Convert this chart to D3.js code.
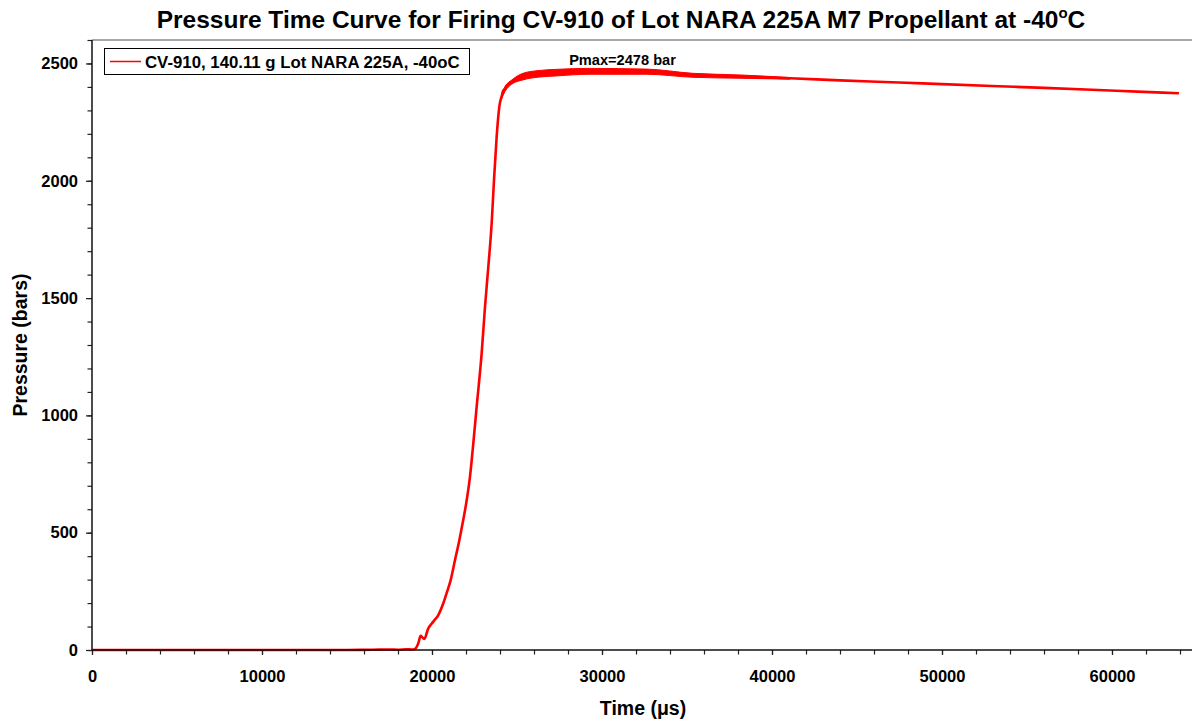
<!DOCTYPE html>
<html>
<head>
<meta charset="utf-8">
<script src="https://cdn.jsdelivr.net/npm/d3@7"></script>
<style>
html,body{margin:0;padding:0;background:#fff;}
svg{display:block;font-family:"Liberation Sans",Arial,sans-serif;}
</style>
</head>
<body>
<svg id="chart" width="1192" height="724"></svg>
<script>
// ---- data ----
const timeUs = [0, 5000, 10000, 15000, 16500, 17500, 18000, 18500, 18800, 19000, 19200, 19330, 19550, 19770, 20078, 20372, 20666, 20860, 21098, 21353, 21600, 21800, 22000, 22235, 22430, 22627, 22922, 23118, 23314, 23510, 23647, 23804, 23961, 24098, 24196, 24290, 24392, 24784, 25350, 25765, 26500, 27340, 28300, 29290, 31000, 32630, 34000, 35350, 36800, 38120, 41060, 44000, 47470, 50000, 52940, 56000, 58820, 61500, 63940];
const pressureBar = [0, 0, 0, 0, 1, 2, 1, 3, 2, 5, 30, 60, 47, 90, 121, 149, 199, 242, 298, 384, 465, 540, 620, 739, 881, 1037, 1265, 1463, 1634, 1819, 2003, 2188, 2316, 2360, 2385, 2390, 2405, 2425, 2444, 2450, 2456, 2461, 2464, 2466, 2466, 2465, 2459, 2450, 2447, 2444, 2437, 2428, 2419, 2412, 2404, 2396, 2388, 2380, 2373];

// ripple band (oscillation envelope)
const rippleTime  = [24098, 24290, 24700, 25350, 26300, 27340, 29290, 32630, 35350, 38120, 41060];
const rippleUpper = [2372, 2401, 2430, 2458, 2470, 2475, 2479, 2476, 2458, 2451, 2440];
const rippleLower = [2350, 2380, 2412, 2430, 2442, 2447, 2454, 2454, 2441, 2437, 2433];

const xTickValues = [0, 10000, 20000, 30000, 40000, 50000, 60000];
const yTickValues = [0, 500, 1000, 1500, 2000, 2500];

const titleMain = "Pressure Time Curve for Firing CV-910 of Lot NARA 225A M7 Propellant at -40";
const titleSup = "o";
const titleEnd = "C";
const legendLabel = "CV-910, 140.11 g Lot NARA 225A, -40oC";
const annotation = "Pmax=2478 bar";
const annotationTime = 31500;
const annotationP = 2478;

// ---- drawing ----
const svg = d3.select("#chart");
const L = 92, R = 1192, T = 40, B = 650;

const x = d3.scaleLinear().domain([0, 64706]).range([L, R]);
const y = d3.scaleLinear().domain([0, 2600]).range([B, T]);

const red = "#ff0000";
const FONT = "Liberation Sans, Arial, sans-serif";

// top frame line
svg.append("line").attr("x1", L).attr("x2", R).attr("y1", T).attr("y2", T)
  .attr("stroke", "#8a8a8a").attr("stroke-width", 1.5);

// ripple band
const band = d3.area()
  .x((d, i) => x(rippleTime[i]))
  .y0((d, i) => y(rippleLower[i]))
  .y1((d, i) => y(rippleUpper[i]))
  .curve(d3.curveMonotoneX);
svg.append("path").datum(rippleTime).attr("d", band)
  .attr("fill", red).attr("stroke", red).attr("stroke-width", 1);

// main curve
const line = d3.line()
  .x((d, i) => x(timeUs[i]))
  .y((d, i) => y(pressureBar[i]))
  .curve(d3.curveMonotoneX);
svg.append("path").datum(timeUs).attr("d", line)
  .attr("fill", "none").attr("stroke", red).attr("stroke-width", 2.6)
  .attr("stroke-linejoin", "round");

// x axis
const xAxisG = svg.append("g").attr("transform", `translate(0,${B})`);
xAxisG.call(d3.axisBottom(x).tickValues(d3.range(0, 64001, 2000)).tickSize(4.5).tickFormat(""));
xAxisG.select(".domain").remove();
const xLab = svg.append("g").attr("transform", `translate(0,${B})`);
xLab.call(d3.axisBottom(x).tickValues(xTickValues).tickSize(5).tickPadding(15).tickFormat(d3.format("d")));
xLab.selectAll("text").attr("font-size", 16.5).attr("font-weight", "bold").attr("fill", "#000")
  .attr("font-family", FONT);
xLab.select(".domain").remove();
svg.append("line").attr("x1", L).attr("x2", R).attr("y1", B).attr("y2", B)
  .attr("stroke", "#111").attr("stroke-width", 1.5);

// y axis
const yAxisG = svg.append("g").attr("transform", `translate(${L},0)`);
yAxisG.call(d3.axisLeft(y).tickValues(d3.range(0, 2601, 100)).tickSize(4.5).tickFormat(""));
yAxisG.select(".domain").remove();
const yLab = svg.append("g").attr("transform", `translate(${L},0)`);
yLab.call(d3.axisLeft(y).tickValues(yTickValues).tickSize(6).tickPadding(8).tickFormat(d3.format("d")));
yLab.selectAll("text").attr("font-size", 16.5).attr("font-weight", "bold").attr("fill", "#000")
  .attr("font-family", FONT);
yLab.select(".domain").remove();
svg.append("line").attr("x1", L).attr("x2", L).attr("y1", T).attr("y2", B)
  .attr("stroke", "#111").attr("stroke-width", 1.5);
svg.selectAll(".tick line").attr("stroke", "#222").attr("stroke-width", 1.2);

// axis titles
svg.append("text").attr("x", 643).attr("y", 715).attr("text-anchor", "middle")
  .attr("font-size", 19.5).attr("font-weight", "bold")
  .text("Time (\u03bcs)");
svg.append("text").attr("transform", "translate(27,345) rotate(-90)").attr("text-anchor", "middle")
  .attr("font-size", 19.5).attr("font-weight", "bold")
  .text("Pressure (bars)");

// title
const title = svg.append("text").attr("x", 621).attr("y", 28).attr("text-anchor", "middle")
  .attr("font-size", 24.5).attr("font-weight", "bold");
title.append("tspan").text(titleMain);
title.append("tspan").attr("dy", -10).attr("font-size", 15).text(titleSup);
title.append("tspan").attr("dy", 10).text(titleEnd);

// legend
const lg = svg.append("g");
lg.append("rect").attr("x", 104.5).attr("y", 48.5).attr("width", 365).attr("height", 26)
  .attr("fill", "#fff").attr("stroke", "#000").attr("stroke-width", 1);
lg.append("line").attr("x1", 110).attr("x2", 141).attr("y1", 61.5).attr("y2", 61.5)
  .attr("stroke", red).attr("stroke-width", 1.5);
lg.append("text").attr("x", 145).attr("y", 67.5).attr("font-size", 16.8).attr("font-weight", "bold")
  .text(legendLabel);

// annotation
svg.append("text").attr("x", x(annotationTime) - 5).attr("y", y(annotationP) - 3.5)
  .attr("text-anchor", "middle").attr("font-size", 14.6).attr("font-weight", "bold")
  .text(annotation);
</script>
</body>
</html>
